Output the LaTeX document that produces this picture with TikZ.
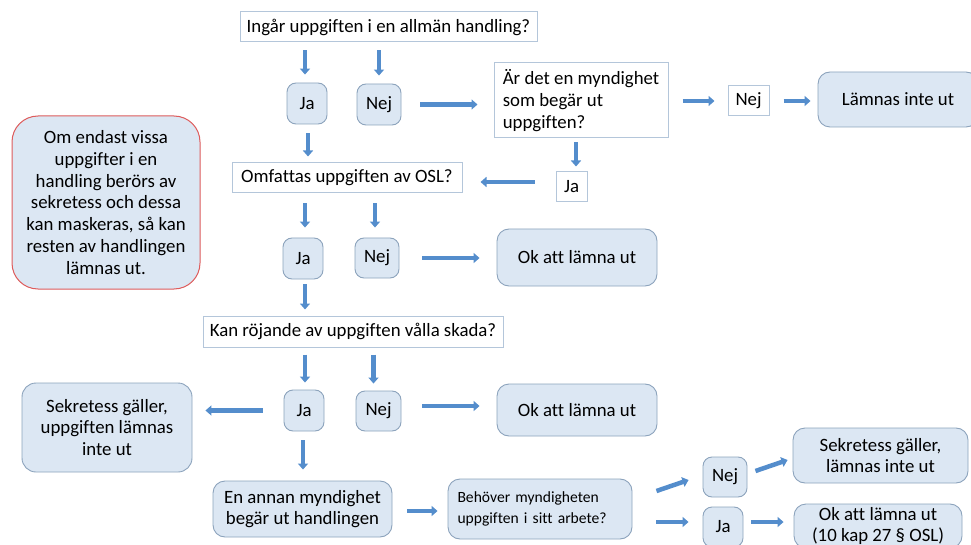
\documentclass[tikz,border=0pt]{standalone}
\usepackage{fontspec}
\setmainfont{Carlito}[Ligatures=NoCommon]
\usetikzlibrary{arrows.meta,calc}
\definecolor{boxfill}{RGB}{220,231,243}
\definecolor{boxdraw}{RGB}{140,163,188}
\definecolor{plaindraw}{RGB}{180,198,218}
\definecolor{arrowc}{RGB}{84,141,204}
\definecolor{notedraw}{RGB}{222,92,92}
\tikzset{
  base/.style={inner sep=0pt, align=center, text=black, font=\fontsize{18.8}{21.8}\selectfont},
  plainbox/.style={base, draw=plaindraw, line width=1pt, fill=white},
  roundbox/.style={base, draw=boxdraw, line width=0.9pt, fill=boxfill, rounded corners=9pt},
  notebox/.style={base, draw=notedraw, line width=1pt, fill=boxfill, rounded corners=26pt},
  barrow/.style={draw=arrowc, line width=4.5pt, -{Triangle[width=10pt,length=6pt]}},
}
\begin{document}
\begin{tikzpicture}[x=1pt,y=-1pt]
\useasboundingbox (0,0) rectangle (971,545);
% nodes
\node[plainbox, minimum width=297, minimum height=30] (q1) at (388.5,27) {Ingår uppgiften i en allmän handling?};
\node[roundbox, minimum width=40, minimum height=41] (ja1) at (307,103.5) {Ja};
\node[roundbox, minimum width=44, minimum height=41] (nej1) at (379,104.5) {Nej};
\node[plainbox, minimum width=174, minimum height=75, align=left] (q2) at (581,100.5) {Är det en myndighet\\som begär ut\\uppgiften?};
\node[plainbox, minimum width=41, minimum height=30] (nej2) at (748.5,101) {Nej};
\node[roundbox, minimum width=160, minimum height=55, rounded corners=12pt] (lam) at (898,99.5) {Lämnas inte ut};
\node[plainbox, minimum width=31, minimum height=30] (ja2) at (571.5,187) {Ja};
\node[plainbox, minimum width=230, minimum height=30] (q3) at (347,178) {Omfattas uppgiften av OSL?};
\node[roundbox, minimum width=40, minimum height=41] (ja3) at (303,258.5) {Ja};
\node[roundbox, minimum width=44, minimum height=40] (nej3) at (377,258) {Nej};
\node[roundbox, minimum width=160, minimum height=57, rounded corners=12pt] (ok1) at (577,257.5) {Ok att lämna ut};
\node[plainbox, minimum width=300, minimum height=31] (q4) at (353,331.5) {Kan röjande av uppgiften vålla skada?};
\node[roundbox, minimum width=40, minimum height=41] (ja4) at (304,410.5) {Ja};
\node[roundbox, minimum width=45, minimum height=40] (nej4) at (378.5,411) {Nej};
\node[roundbox, minimum width=170, minimum height=89, rounded corners=14pt] (sek1) at (107,427.5) {Sekretess gäller,\\uppgiften lämnas\\inte ut};
\node[roundbox, minimum width=160, minimum height=52, rounded corners=12pt] (ok2) at (577,410) {Ok att lämna ut};
\node[roundbox, minimum width=179, minimum height=56, rounded corners=12pt] (annan) at (302.5,509) {En annan myndighet\\begär ut handlingen};
\node[roundbox, minimum width=184, minimum height=60, rounded corners=12pt, text width=165, align=left, font=\fontsize{15.6}{21}\selectfont] (beh) at (540,509) {Behöver myndigheten\\uppgiften i sitt arbete?};
\node[roundbox, minimum width=44, minimum height=40] (nej5) at (725,477) {Nej};
\node[roundbox, minimum width=40, minimum height=40] (ja5) at (723,527) {Ja};
\node[roundbox, minimum width=175, minimum height=55, rounded corners=12pt] (sek2) at (880.5,455.5) {Sekretess gäller,\\lämnas inte ut};
\node[roundbox, minimum width=168, minimum height=44, rounded corners=12pt] (ok3) at (878,526) {Ok att lämna ut\\(10 kap 27 § OSL)};
\node[notebox, minimum width=188, minimum height=173] (note) at (106,202.5) {Om endast vissa\\uppgifter i en\\handling berörs av\\sekretess och dessa\\kan maskeras, så kan\\resten av handlingen\\lämnas ut.};
% arrows
\draw[barrow, shorten <=8pt, shorten >=8pt] ([xshift=-2pt]ja1.north |- q1.south) -- ([xshift=-2pt]ja1.north);
\draw[barrow, shorten <=8pt, shorten >=8pt] (nej1.north |- q1.south) -- (nej1.north);
\draw[barrow, shorten <=19pt, shorten >=16pt] (nej1.east) -- (nej1.east -| q2.west);
\draw[barrow, shorten <=14pt, shorten >=13pt] (q2.east |- nej2.west) -- (nej2.west);
\draw[barrow, shorten <=14pt, shorten >=7pt] (nej2.east) -- (nej2.east -| lam.west);
\draw[barrow, shorten <=4pt, shorten >=5pt] ([xshift=4.5pt]ja2.north |- q2.south) -- ([xshift=4.5pt]ja2.north);
\draw[barrow, shorten <=21pt, shorten >=18pt] ([yshift=5pt]ja2.west) -- ([yshift=5pt]ja2.west -| q3.east);
\draw[barrow, shorten <=9pt, shorten >=6pt] ([xshift=1pt]ja1.south) -- ([xshift=1pt]ja1.south |- q3.north);
\draw[barrow, shorten <=10pt, shorten >=10pt] ([xshift=2pt]ja3.north |- q3.south) -- ([xshift=2pt]ja3.north);
\draw[barrow, shorten <=10pt, shorten >=10pt] ([xshift=-2pt]nej3.north |- q3.south) -- ([xshift=-2pt]nej3.north);
\draw[barrow, shorten <=23pt, shorten >=17pt] (nej3.east) -- (nej3.east -| ok1.west);
\draw[barrow, shorten <=5pt, shorten >=6pt] ([xshift=2pt]ja3.south) -- ([xshift=2pt]ja3.south |- q4.north);
\draw[barrow, shorten <=7pt, shorten >=7pt] ([xshift=1pt]ja4.north |- q4.south) -- ([xshift=1pt]ja4.north);
\draw[barrow, shorten <=7pt, shorten >=7pt] ([xshift=-5pt]nej4.north |- q4.south) -- ([xshift=-5pt]nej4.north);
\draw[barrow, shorten <=21pt, shorten >=13pt] (ja4.west) -- (ja4.west -| sek1.east);
\draw[barrow, shorten <=21pt, shorten >=17pt] ([yshift=5pt]nej4.east) -- ([yshift=5pt]nej4.east -| ok2.west);
\draw[barrow, shorten <=9pt, shorten >=11pt] ([xshift=-1pt]ja4.south) -- ([xshift=-1pt]ja4.south |- annan.north);
\draw[barrow, shorten <=15pt, shorten >=10pt] ([yshift=-2pt]annan.east) -- ([yshift=-2pt]annan.east -| beh.west);
\draw[barrow] ($(beh.east)+(24,-18)$) -- ($(nej5.west)+(-14,3)$);
\draw[barrow] ($(beh.east)+(24,13)$) -- ($(ja5.west)+(-14,-5)$);
\draw[barrow] ($(nej5.east)+(8,-6)$) -- ($(sek2.west)+(-5,4.5)$);
\draw[barrow] ($(ja5.east)+(8,-5)$) -- ($(ok3.west)+(-10,-4)$);
\end{tikzpicture}
\end{document}
